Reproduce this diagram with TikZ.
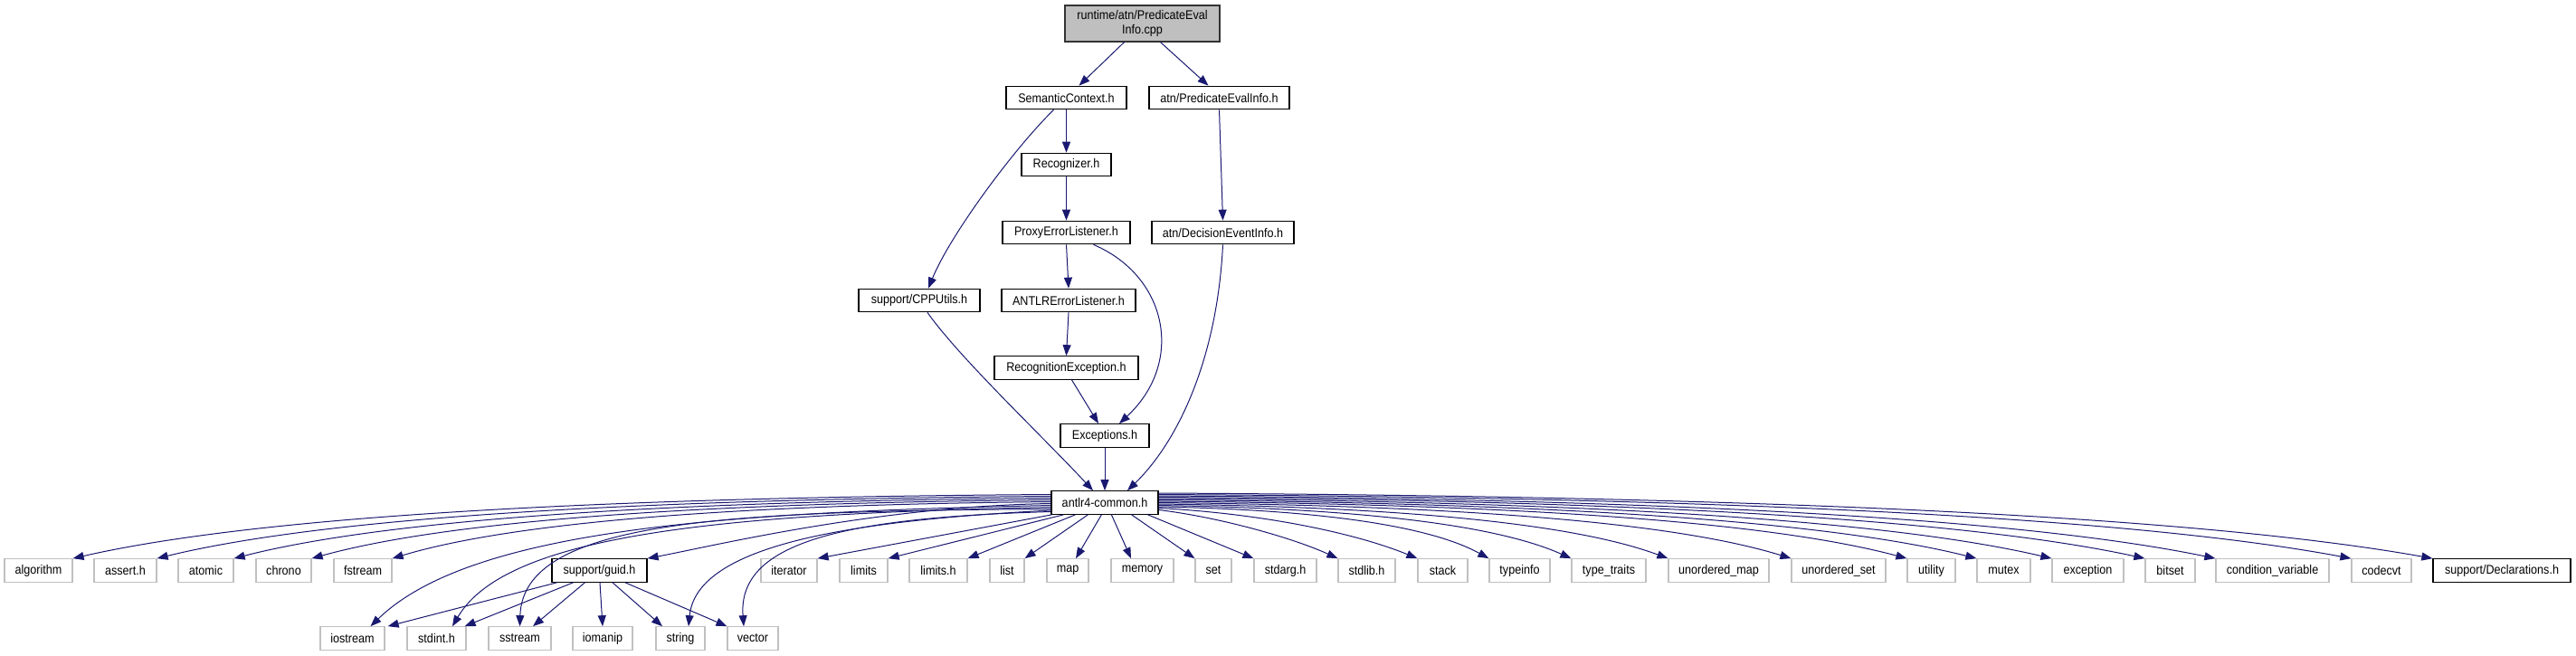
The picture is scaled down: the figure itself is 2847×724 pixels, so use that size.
\documentclass[tikz,border=0pt]{standalone}
\usepackage{fontspec}
\setmainfont[FakeStretch=0.9]{Liberation Sans}
\usetikzlibrary{arrows.meta}
\definecolor{edgeblue}{HTML}{191970}
\definecolor{sysgrey}{HTML}{C0C0C0}
\definecolor{rootfill}{HTML}{BFBFBF}
\tikzset{
  box/.style={rectangle, inner sep=0pt, minimum height=25.5pt, font=\fontsize{14}{15.5}\selectfont, fill=white, line width=1.2pt},
  hdr/.style={box, draw=black},
  sys/.style={box, draw=sysgrey},
  rootbox/.style={box, draw=black!80, fill=rootfill, align=center, minimum height=40pt},
  edge/.style={draw=edgeblue, line width=1pt, -{Triangle[length=12pt,width=9pt]}, color=edgeblue}
}
\begin{document}
\begin{tikzpicture}[x=1pt,y=-1pt]
\useasboundingbox (0,0) rectangle (2847,724);
% upper part
\node[rootbox, minimum width=171pt] (top) at (1262.5,26) {runtime/atn/PredicateEval\\Info.cpp};
\node[hdr, minimum width=133pt] (sc) at (1178.5,108) {SemanticContext.h};
\node[hdr, minimum width=155pt] (pe) at (1347.5,108) {atn/PredicateEvalInfo.h};
\node[hdr, minimum width=99pt] (rec) at (1178.5,182) {Recognizer.h};
\node[hdr, minimum width=141pt] (pel) at (1178.5,257) {ProxyErrorListener.h};
\node[hdr, minimum width=157pt] (dei) at (1351.5,257) {atn/DecisionEventInfo.h};
\node[hdr, minimum width=134pt] (cpp) at (1016,332) {support/CPPUtils.h};
\node[hdr, minimum width=148pt] (ael) at (1181,332) {ANTLRErrorListener.h};
\node[hdr, minimum width=159pt] (rex) at (1178.5,406.5) {RecognitionException.h};
\node[hdr, minimum width=98pt] (exc) at (1221,481.5) {Exceptions.h};
\node[hdr, minimum width=118pt] (ac) at (1221,555.5) {antlr4-common.h};
% row 1
\node[sys, minimum width=75pt] (alg) at (42.5,630.5) {algorithm};
\node[sys, minimum width=69pt] (asrt) at (138.5,630.5) {assert.h};
\node[sys, minimum width=61pt] (atom) at (227.5,630.5) {atomic};
\node[sys, minimum width=61pt] (chrono) at (313.5,630.5) {chrono};
\node[sys, minimum width=64pt] (fstr) at (401,630.5) {fstream};
\node[hdr, minimum width=105pt] (guid) at (662.5,630.5) {support/guid.h};
\node[sys, minimum width=62pt] (iter) at (872,630.5) {iterator};
\node[sys, minimum width=53pt] (lim) at (954.5,630.5) {limits};
\node[sys, minimum width=64pt] (limh) at (1037,630.5) {limits.h};
\node[sys, minimum width=38pt] (list) at (1113,630.5) {list};
\node[sys, minimum width=46pt] (map) at (1180,630.5) {map};
\node[sys, minimum width=69pt] (mem) at (1262.5,630.5) {memory};
\node[sys, minimum width=40pt] (set) at (1341,630.5) {set};
\node[sys, minimum width=69pt] (stdarg) at (1420.5,630.5) {stdarg.h};
\node[sys, minimum width=63pt] (stdlib) at (1510.5,630.5) {stdlib.h};
\node[sys, minimum width=55pt] (stack) at (1594.5,630.5) {stack};
\node[sys, minimum width=67pt] (tinfo) at (1679.5,630.5) {typeinfo};
\node[sys, minimum width=82pt] (ttraits) at (1778,630.5) {type\_traits};
\node[sys, minimum width=111pt] (umap) at (1899.5,630.5) {unordered\_map};
\node[sys, minimum width=104pt] (uset) at (2032,630.5) {unordered\_set};
\node[sys, minimum width=53pt] (util) at (2134.5,630.5) {utility};
\node[sys, minimum width=59pt] (mutex) at (2214.5,630.5) {mutex};
\node[sys, minimum width=79pt] (except) at (2307.5,630.5) {exception};
\node[sys, minimum width=55pt] (bitset) at (2398.5,630.5) {bitset};
\node[sys, minimum width=125pt] (condv) at (2511.5,630.5) {condition\_variable};
\node[sys, minimum width=66pt] (codecvt) at (2632,630.5) {codecvt};
\node[hdr, minimum width=152pt] (decl) at (2765,630.5) {support/Declarations.h};
% row 2
\node[sys, minimum width=71pt] (iostr) at (389.5,705.5) {iostream};
\node[sys, minimum width=65pt] (stdint) at (482.5,705.5) {stdint.h};
\node[sys, minimum width=69pt] (sstr) at (574.5,705.5) {sstream};
\node[sys, minimum width=66pt] (iomanip) at (666,705.5) {iomanip};
\node[sys, minimum width=54pt] (str) at (752,705.5) {string};
\node[sys, minimum width=56pt] (vec) at (832,705.5) {vector};
% upper edges
\draw[edge] ([xshift=-20pt]top.south) -- ([xshift=14pt]sc.north);
\draw[edge] ([xshift=20pt]top.south) -- ([xshift=-12pt]pe.north);
\draw[edge] (sc.south) -- (rec.north);
\draw[edge] ([xshift=-14pt]sc.south) .. controls (1120,165) and (1050,260) .. ([xshift=10pt]cpp.north);
\draw[edge] (pe.south) -- (dei.north);
\draw[edge] (rec.south) -- (pel.north);
\draw[edge] (pel.south) -- (ael.north);
\draw[edge] ([xshift=30pt]pel.south) .. controls (1290,305) and (1310,400) .. ([xshift=16pt]exc.north);
\draw[edge] (ael.south) -- (rex.north);
\draw[edge] ([xshift=6pt]rex.south) -- ([xshift=-7pt]exc.north);
\draw[edge] (exc.south) -- (ac.north);
\draw[edge] ([xshift=9pt]cpp.south) .. controls (1060,395) and (1150,480) .. ([xshift=-13pt]ac.north);
\draw[edge] (dei.south) .. controls (1345,400) and (1300,490) .. ([xshift=25pt]ac.north);
% left edges from antlr4-common
\draw[edge] ([yshift=9pt]ac.west) .. controls (697,549.5) and (296,568) .. (alg.north east);
\draw[edge] ([yshift=7pt]ac.west) .. controls (737,551.5) and (371,569) .. (asrt.north east);
\draw[edge] ([yshift=5pt]ac.west) .. controls (773,553.5) and (439,571) .. (atom.north east);
\draw[edge] ([yshift=3pt]ac.west) .. controls (810,555.5) and (508,572) .. (chrono.north east);
\draw[edge] ([yshift=1pt]ac.west) .. controls (849,557.5) and (579,573.5) .. (fstr.north east);
\draw[edge] ([yshift=-1pt]ac.west) .. controls (970,559.5) and (790,603) .. (guid.north east);
\draw[edge] ([yshift=-3pt]ac.west) .. controls (800,566) and (520,585) .. ([xshift=20pt]iostr.north);
\draw[edge] ([yshift=-5pt]ac.west) .. controls (800,568) and (560,590) .. ([xshift=17.5pt]stdint.north);
\draw[edge] ([yshift=-7pt]ac.west) .. controls (800,565) and (578,575) .. (sstr.north);
\draw[edge] ([yshift=-8.5pt]ac.west) .. controls (950,575) and (770,600) .. ([xshift=9pt]str.north);
\draw[edge] ([yshift=-10pt]ac.west) .. controls (930,572) and (815,600) .. ([xshift=-10pt]vec.north);
% bottom edges
\draw[edge] ([xshift=1pt]ac.south west) -- (iter.north east);
\draw[edge] ([xshift=14pt]ac.south west) -- (lim.north east);
\draw[edge] ([xshift=27pt]ac.south west) -- (limh.north east);
\draw[edge] ([xshift=41pt]ac.south west) -- (list.north east);
\draw[edge] ([xshift=56pt]ac.south west) -- ([xshift=9pt]map.north);
\draw[edge] ([xshift=67pt]ac.south west) -- ([xshift=-12.5pt]mem.north);
\draw[edge] ([xshift=-30pt]ac.south east) -- (set.north west);
\draw[edge] ([xshift=-12pt]ac.south east) -- (stdarg.north west);
% right edges
\draw[edge] ([yshift=-8pt]ac.east) .. controls (1350,572) and (1430,595) .. (stdlib.north west);
\draw[edge] ([yshift=-6pt]ac.east) .. controls (1400,568) and (1500,590) .. (stack.north west);
\draw[edge] ([yshift=-4.5pt]ac.east) .. controls (1437,563) and (1573,577.5) .. (tinfo.north west);
\draw[edge] ([yshift=-3pt]ac.east) .. controls (1476.5,561.5) and (1645.5,576.5) .. (ttraits.north west);
\draw[edge] ([yshift=-1.5pt]ac.east) .. controls (1522.5,560) and (1731,575.5) .. (umap.north west);
\draw[edge] (ac.east) .. controls (1581,558.5) and (1840,574) .. (uset.north west);
\draw[edge] ([yshift=1.5pt]ac.east) .. controls (1636,557) and (1942,573) .. (util.north west);
\draw[edge] ([yshift=3pt]ac.east) .. controls (1669,555.5) and (2004,572) .. (mutex.north west);
\draw[edge] ([yshift=4.5pt]ac.east) .. controls (1705,554) and (2070,571) .. (except.north west);
\draw[edge] ([yshift=6pt]ac.east) .. controls (1749,552.5) and (2153,570) .. (bitset.north west);
\draw[edge] ([yshift=7.5pt]ac.east) .. controls (1783,551) and (2215,569) .. (condv.north west);
\draw[edge] ([yshift=9pt]ac.east) .. controls (1847,549.5) and (2335,568) .. (codecvt.north west);
\draw[edge] ([yshift=10.5pt]ac.east) .. controls (1886,548) and (2407,567) .. (decl.north west);
% guid edges
\draw[edge] ([xshift=6pt]guid.south west) -- ([xshift=3pt]iostr.north east);
\draw[edge] ([xshift=24pt]guid.south west) -- ([xshift=-2pt]stdint.north east);
\draw[edge] ([xshift=37pt]guid.south west) -- ([xshift=14.5pt]sstr.north);
\draw[edge] ([xshift=0.5pt]guid.south) -- (iomanip.north);
\draw[edge] ([xshift=14.5pt]guid.south) -- ([xshift=-20pt]str.north);
\draw[edge] ([xshift=28.5pt]guid.south) -- (vec.north west);
\end{tikzpicture}
\end{document}
